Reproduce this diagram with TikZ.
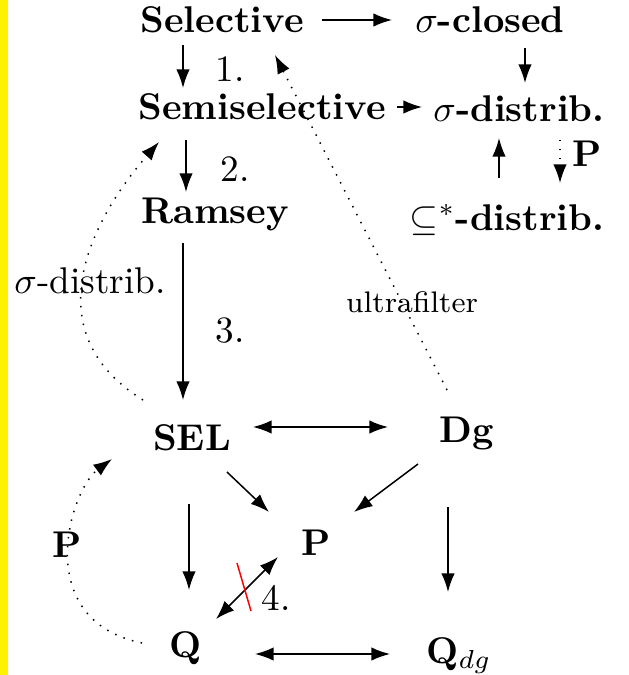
\documentclass[tikz,border=0pt]{standalone}
\usetikzlibrary{arrows.meta,calc}

\begin{document}
\begin{tikzpicture}[x=0.2688pt,y=-0.2688pt,
    >={Latex[length=5pt,width=3.6pt]},
    cls/.style={font=\bfseries,inner sep=0pt,anchor=base},
    lbl/.style={inner sep=0pt,anchor=base},
    imp/.style={->},
    eqv/.style={<->},
    weak/.style={dotted,->}]
    \useasboundingbox (0,0) rectangle (629,675);
    \fill[yellow] (0,0) rectangle (8,675);

    % The classes
    \node[cls] (sel) at (222,33) {Selective};
    \node[cls] (sclosed) at (490,33) {$\sigma$-closed};
    \node[cls] (semi) at (262,120) {Semiselective};
    \node[cls] (sdist) at (519,122) {$\sigma$-distrib.};
    \node[cls] (ramsey) at (215,223) {Ramsey};
    \node[cls] (subdist) at (507,230) {$\subseteq^*$-distrib.};
    \node[cls] (SEL) at (192,450) {SEL};
    \node[cls] (dg) at (467,442) {Dg};
    \node[cls] (pp) at (316,555) {P};
    \node[cls] (q) at (186,657) {Q};
    \node[cls] (qdg) at (459,663) {Q$_{dg}$};

    % Labels
    \node[lbl] (n1) at (230,82) {1.};
    \node[lbl] (n2) at (235,182) {2.};
    \node[lbl] (n3) at (230,342) {3.};
    \node[lbl] (n4) at (276,610) {4.};
    \node[cls] (pr) at (587,167) {P};
    \node[lbl] (sd) at (90,293) {$\sigma$-distrib.};
    \node[cls] (pl) at (67,557) {P};
    \node[lbl,font=\footnotesize] (uf) at (412,312) {ultrafilter};

    % Implications
    \draw[imp] ($(sel.base)+(100,-13)$) -- ($(sclosed.base)+(-98,-13)$);
    \draw[imp] ($(sel.base)+(-39,12)$) -- ($(semi.base)+(-79,-32)$);
    \draw[imp] ($(sclosed.base)+(35,15)$) -- ($(sdist.base)+(6,-39)$);
    \draw[imp] ($(semi.base)+(135,-13)$) -- ($(sdist.base)+(-97,-15)$);
    \draw[imp] ($(subdist.base)+(-8,-52)$) -- ($(sdist.base)+(-20,16)$);
    \draw[weak] ($(sdist.base)+(41,18)$) -- ($(subdist.base)+(53,-47)$);
    \draw[imp] ($(semi.base)+(-76,20)$) -- ($(ramsey.base)+(-29,-31)$);
    \draw[imp] ($(ramsey.base)+(-32,20)$) -- ($(SEL.base)+(-9,-50)$);
    \draw[eqv] ($(SEL.base)+(61,-23)$) -- ($(dg.base)+(-79,-15)$);
    \draw[imp] ($(SEL.base)+(35,22)$) -- ($(pp.base)+(-47,-43)$);
    \draw[imp] ($(dg.base)+(-49,22)$) -- ($(pp.base)+(38,-43)$);
    \draw[imp] ($(SEL.base)+(-3,54)$) -- ($(q.base)+(3,-67)$);
    \draw[imp] ($(dg.base)+(-19,65)$) -- ($(qdg.base)+(-11,-71)$);
    \draw[eqv] ($(q.base)+(30,-38)$) -- ($(pp.base)+(-38,2)$);
    \draw[red] ($(q.base)+(51,-94)$) -- ($(q.base)+(65,-46)$);
    \draw[eqv] ($(q.base)+(69,-3)$) -- ($(qdg.base)+(-69,-9)$);

    % Dotted ones
    \draw[weak] ($(SEL.base)+(-49,-50)$) .. controls +(-113,-70) and +(-64,73) .. ($(semi.base)+(-103,22)$);
    \draw[weak] ($(q.base)+(-44,-14)$) .. controls +(-112,-23) and +(-42,31) .. ($(SEL.base)+(-80,9)$);
    \draw[weak] ($(dg.base)+(-20,-52)$) -- ($(sel.base)+(53,22)$);
\end{tikzpicture}
\end{document}
